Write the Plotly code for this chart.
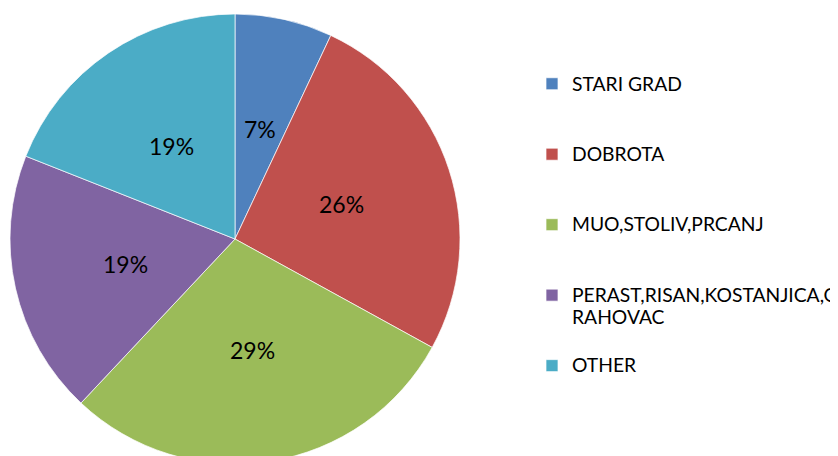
import math
import plotly.graph_objects as go

categories = ["STARI GRAD", "DOBROTA", "MUO,STOLIV,PRCANJ",
              "PERAST,RISAN,KOSTANJICA,O<br>RAHOVAC", "OTHER"]
values = [7, 26, 29, 19, 19]
colors = ["#4F81BD", "#C0504D", "#9BBB59", "#8064A2", "#4BACC6"]

FONT = "Lato, Noto Sans, sans-serif"
LEG_TEXT_SIZE = 19.3
LEG_LINES = 3


def legend_label(cat):
    lines = ['<span style="font-size:%spx">%s</span>' % (LEG_TEXT_SIZE, s)
             for s in cat.split("<br>")]
    while len(lines) < LEG_LINES:
        lines.append("\u00a0")
    return "<br>".join(lines)


legend_labels = [legend_label(c) for c in categories]

# figure is offset by the page's 8px body margin; it is made a little taller
# so the bottom of the pie runs off the window like in the reference
W, H = 838, 472
CX, CY, R = 227, 231, 225  # pie centre and radius in figure pixels

fig = go.Figure(go.Pie(
    labels=legend_labels,
    values=values,
    marker=dict(colors=colors, line=dict(color="white", width=0.7)),
    sort=False,
    direction="clockwise",
    rotation=0,
    textinfo="none",
    domain=dict(x=[(CX - R) / W, (CX + R) / W],
                y=[(H - CY - R) / H, (H - CY + R) / H]),
    hoverinfo="label+percent",
))

# percentage labels at half radius, at each slice's mid-angle
total = sum(values)
cum = 0.0
annotations = []
for v in values:
    mid = (cum + v / 2) / total * 2 * math.pi
    cum += v
    px = CX + 0.5 * R * math.sin(mid)
    py = CY - 0.5 * R * math.cos(mid)
    annotations.append(dict(
        x=px / W, y=1 - py / H, xref="paper", yref="paper",
        text="%d%%" % round(100 * v / total), showarrow=False,
        xanchor="center", yanchor="middle",
        font=dict(family=FONT, size=23, color="black"),
    ))

fig.update_layout(
    width=W, height=H,
    margin=dict(l=0, r=0, t=0, b=0),
    paper_bgcolor="white",
    plot_bgcolor="white",
    showlegend=True,
    annotations=annotations,
    legend=dict(
        x=524 / W, y=1 - 58 / H, xanchor="left", yanchor="top",
        valign="top",
        font=dict(family=FONT, size=17.3, color="black"),
        bgcolor="rgba(0,0,0,0)",
    ),
)

fig.write_html("out.html")
